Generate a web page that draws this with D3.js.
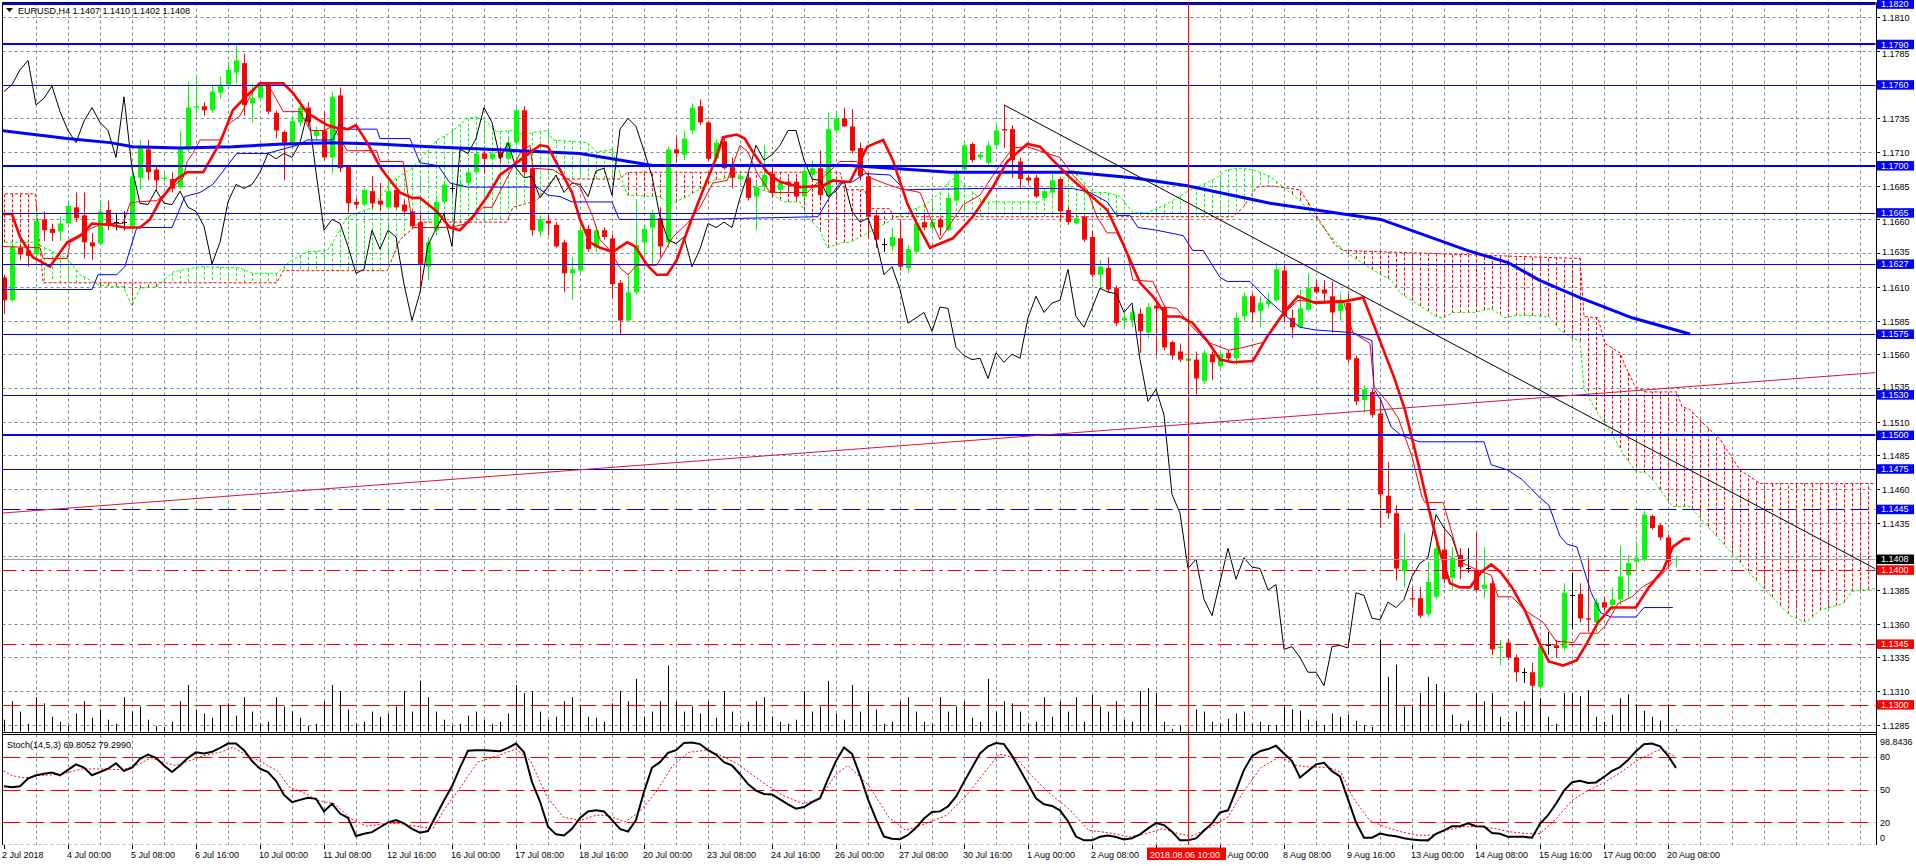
<!DOCTYPE html>
<html><head><meta charset="utf-8">
<script src="https://cdn.jsdelivr.net/npm/d3@7"></script>
<style>
body{margin:0;background:#fff;overflow:hidden}
svg{display:block}
text{font-family:"Liberation Sans",Arial,sans-serif;font-size:9px}
</style></head>
<body><svg id="c" width="1916" height="866"></svg>
<script>
// ---------- DATA ----------
const opens=[1.1617,1.1600,1.1639,1.1637,1.1634,1.1660,1.1653,1.1651,1.1657,1.1669,
1.1663,1.1643,1.1642,1.1667,1.1658,1.1658,1.1655,1.1691,1.1712,1.1697,
1.1690,1.1690,1.1684,1.1712,1.1743,1.1744,1.1741,1.1754,1.1760,1.1769,
1.1776,1.1746,1.1750,1.1761,1.1739,1.1725,1.1715,1.1732,1.1743,1.1722,
1.1726,1.1706,1.1752,1.1699,1.1673,1.1671,1.1681,1.1674,1.1669,1.1682,
1.1671,1.1666,1.1658,1.1625,1.1652,1.1673,1.1683,1.1684,1.1687,1.1695,
1.1709,1.1705,1.1710,1.1705,1.1717,1.1741,1.1698,1.1651,1.1659,1.1656,
1.1643,1.1620,1.1622,1.1653,1.1639,1.1652,1.1646,1.1613,1.1585,1.1606,
1.1643,1.1654,1.1661,1.1643,1.1712,1.1708,1.1726,1.1744,1.1732,1.1705,
1.1718,1.1700,1.1690,1.1691,1.1677,1.1684,1.1694,1.1682,1.1688,1.1688,
1.1677,1.1693,1.1698,1.1677,1.1726,1.1735,1.1729,1.1713,1.1692,1.1663,
1.1642,1.1640,1.1646,1.1624,1.1636,1.1658,1.1654,1.1660,1.1652,1.1674,
1.1697,1.1716,1.1706,1.1702,1.1715,1.1727,1.1727,1.1703,1.1691,1.1691,
1.1676,1.1680,1.1690,1.1667,1.1657,1.1662,1.1647,1.1619,1.1624,1.1609,
1.1585,1.1585,1.1590,1.1576,1.1596,1.1595,1.1569,1.1562,1.1555,1.1556,
1.1540,1.1560,1.1551,1.1561,1.1557,1.1588,1.1603,1.1592,1.1597,1.1600,
1.1622,1.1587,1.1580,1.1593,1.1610,1.1608,1.1603,1.1592,1.1598,1.1557,
1.1526,1.1532,1.1516,1.1455,1.1442,1.1399,1.1379,1.1379,1.1367,1.1380,
1.1415,1.1394,1.1411,1.1401,1.1400,1.1386,1.1390,1.1342,1.1346,1.1335,
1.1324,1.1324,1.1313,1.1344,1.1344,1.1342,1.1381,1.1382,1.1364,1.1361,
1.1376,1.1374,1.1378,1.1396,1.1406,1.1408,1.1440,1.1433,1.1424,1.1407];
const highs=[1.1619,1.1642,1.1642,1.1642,1.1666,1.1666,1.1657,1.1662,1.1672,1.1680,
1.1680,1.1650,1.1674,1.1674,1.1665,1.1666,1.1700,1.1719,1.1719,1.1699,
1.1695,1.1695,1.1726,1.1762,1.1767,1.1747,1.1760,1.1766,1.1777,1.1789,
1.1783,1.1761,1.1761,1.1761,1.1741,1.1726,1.1737,1.1749,1.1747,1.1729,
1.1740,1.1755,1.1758,1.1700,1.1676,1.1683,1.1692,1.1687,1.1693,1.1683,
1.1674,1.1667,1.1666,1.1647,1.1677,1.1689,1.1687,1.1689,1.1698,1.1711,
1.1711,1.1711,1.1714,1.1720,1.1743,1.1744,1.1700,1.1663,1.1664,1.1658,
1.1645,1.1632,1.1656,1.1656,1.1655,1.1654,1.1649,1.1615,1.1620,1.1675,
1.1656,1.1667,1.1669,1.1714,1.1721,1.1726,1.1746,1.1749,1.1733,1.1719,
1.1721,1.1706,1.1695,1.1695,1.1688,1.1715,1.1699,1.1689,1.1691,1.1691,
1.1700,1.1704,1.1711,1.1739,1.1739,1.1743,1.1742,1.1717,1.1695,1.1667,
1.1646,1.1654,1.1660,1.1641,1.1660,1.1664,1.1661,1.1662,1.1678,1.1697,
1.1719,1.1717,1.1710,1.1718,1.1732,1.1745,1.1730,1.1706,1.1693,1.1693,
1.1683,1.1694,1.1691,1.1669,1.1662,1.1663,1.1652,1.1630,1.1632,1.1611,
1.1591,1.1595,1.1594,1.1598,1.1599,1.1596,1.1570,1.1568,1.1559,1.1562,
1.1563,1.1562,1.1563,1.1563,1.1591,1.1606,1.1605,1.1603,1.1605,1.1628,
1.1626,1.1593,1.1608,1.1620,1.1615,1.1615,1.1614,1.1605,1.1605,1.1559,
1.1537,1.1534,1.1528,1.1480,1.1448,1.1427,1.1387,1.1387,1.1406,1.1424,
1.1432,1.1417,1.1416,1.1416,1.1428,1.1417,1.1394,1.1348,1.1349,1.1337,
1.1327,1.1331,1.1346,1.1354,1.1348,1.1390,1.1398,1.1390,1.1409,1.1379,
1.1380,1.1387,1.1418,1.1411,1.1421,1.1444,1.1441,1.1434,1.1426,1.1410];
const lows=[1.1590,1.1599,1.1630,1.1625,1.1630,1.1644,1.1644,1.1644,1.1656,1.1658,
1.1631,1.1630,1.1641,1.1652,1.1652,1.1652,1.1652,1.1682,1.1689,1.1682,
1.1688,1.1680,1.1683,1.1710,1.1737,1.1737,1.1739,1.1750,1.1760,1.1761,
1.1737,1.1732,1.1749,1.1738,1.1720,1.1689,1.1714,1.1729,1.1729,1.1719,
1.1704,1.1694,1.1695,1.1665,1.1668,1.1670,1.1668,1.1666,1.1668,1.1668,
1.1663,1.1654,1.1609,1.1615,1.1648,1.1671,1.1680,1.1682,1.1686,1.1693,
1.1694,1.1704,1.1702,1.1704,1.1715,1.1693,1.1648,1.1647,1.1648,1.1639,
1.1606,1.1600,1.1620,1.1636,1.1636,1.1645,1.1602,1.1574,1.1584,1.1604,
1.1633,1.1626,1.1632,1.1639,1.1702,1.1704,1.1723,1.1730,1.1703,1.1703,
1.1697,1.1683,1.1688,1.1674,1.1652,1.1682,1.1676,1.1678,1.1682,1.1674,
1.1676,1.1691,1.1674,1.1676,1.1724,1.1729,1.1709,1.1689,1.1646,1.1639,
1.1636,1.1637,1.1622,1.1620,1.1634,1.1652,1.1652,1.1648,1.1651,1.1673,
1.1695,1.1702,1.1704,1.1699,1.1714,1.1713,1.1691,1.1683,1.1687,1.1676,
1.1674,1.1678,1.1658,1.1656,1.1656,1.1643,1.1617,1.1608,1.1606,1.1581,
1.1580,1.1580,1.1561,1.1572,1.1559,1.1563,1.1556,1.1554,1.1554,1.1530,
1.1538,1.1541,1.1548,1.1554,1.1552,1.1584,1.1584,1.1580,1.1594,1.1599,
1.1584,1.1572,1.1579,1.1592,1.1605,1.1598,1.1576,1.1585,1.1554,1.1522,
1.1516,1.1513,1.1431,1.1438,1.1392,1.1387,1.1372,1.1364,1.1365,1.1378,
1.1390,1.1385,1.1393,1.1398,1.1384,1.1379,1.1337,1.1329,1.1333,1.1317,
1.1316,1.1311,1.1312,1.1337,1.1335,1.1340,1.1356,1.1361,1.1354,1.1354,
1.1369,1.1370,1.1374,1.1379,1.1400,1.1406,1.1430,1.1422,1.1402,1.1402];
const closes=[1.1600,1.1640,1.1634,1.1633,1.1659,1.1652,1.1650,1.1657,1.1670,1.1661,
1.1643,1.1640,1.1666,1.1657,1.1658,1.1658,1.1692,1.1713,1.1695,1.1689,
1.1691,1.1683,1.1712,1.1743,1.1744,1.1741,1.1755,1.1760,1.1771,1.1778,
1.1745,1.1750,1.1759,1.1740,1.1726,1.1717,1.1733,1.1743,1.1732,1.1726,
1.1706,1.1751,1.1698,1.1672,1.1671,1.1682,1.1672,1.1671,1.1681,1.1669,
1.1666,1.1655,1.1627,1.1643,1.1673,1.1686,1.1683,1.1686,1.1695,1.1709,
1.1705,1.1709,1.1706,1.1717,1.1741,1.1695,1.1652,1.1660,1.1657,1.1640,
1.1620,1.1623,1.1652,1.1638,1.1652,1.1647,1.1612,1.1585,1.1606,1.1641,
1.1653,1.1664,1.1640,1.1712,1.1709,1.1720,1.1743,1.1732,1.1705,1.1717,
1.1698,1.1691,1.1692,1.1676,1.1684,1.1693,1.1680,1.1687,1.1686,1.1677,
1.1696,1.1698,1.1678,1.1727,1.1735,1.1729,1.1711,1.1692,1.1662,1.1645,
1.1642,1.1647,1.1625,1.1638,1.1657,1.1654,1.1658,1.1654,1.1676,1.1694,
1.1715,1.1704,1.1708,1.1715,1.1726,1.1726,1.1704,1.1690,1.1689,1.1677,
1.1681,1.1689,1.1666,1.1658,1.1661,1.1645,1.1619,1.1625,1.1608,1.1583,
1.1587,1.1591,1.1577,1.1595,1.1594,1.1565,1.1559,1.1556,1.1557,1.1542,
1.1561,1.1554,1.1560,1.1557,1.1587,1.1603,1.1591,1.1598,1.1600,1.1623,
1.1588,1.1580,1.1594,1.1609,1.1606,1.1605,1.1591,1.1598,1.1556,1.1525,
1.1534,1.1515,1.1456,1.1442,1.1401,1.1408,1.1378,1.1366,1.1391,1.1416,
1.1393,1.1409,1.1402,1.1401,1.1385,1.1389,1.1341,1.1343,1.1335,1.1324,
1.1324,1.1314,1.1343,1.1344,1.1342,1.1383,1.1381,1.1364,1.1363,1.1376,
1.1372,1.1378,1.1395,1.1405,1.1409,1.1441,1.1431,1.1424,1.1406,1.1408];
// tick volumes per bar
const volumes=[3000,7500,5000,2000,8500,7000,3750,2500,1500,4500,
7500,3500,5500,3000,2000,8500,5000,6250,3000,1500,
1250,2500,7500,11500,5500,4500,3500,6500,7000,4000,
8500,5000,2000,2500,8500,6250,5000,3500,1500,2000,
7500,11500,10000,5500,2000,2500,5000,3750,4500,6250,
10000,5000,12500,8500,5000,3000,1500,2000,4000,5000,
3000,2000,2500,4500,11500,9500,10000,5000,3000,3750,
7500,8500,6250,3750,3500,2500,7000,10000,7500,13000,
3750,5000,7500,16250,7500,5000,6250,4500,7500,3500,
10000,5000,1500,2500,7500,8500,3750,2500,2000,3000,
10000,5000,6250,12500,4500,3000,11500,5000,10000,5500,
2000,2500,7500,8500,5000,2500,2000,8500,5000,6250,
7500,3500,2500,13000,5000,7500,7000,5000,2000,2500,
8500,3750,7500,5000,8500,2500,9000,6250,5000,7500,
3000,2500,10000,10750,
9500,2500,750,1500,6250,5500,5000,2500,2000,3250,
4500,5000,2000,2500,1750,1750,6250,5500,5250,3000,
2750,1750,4500,3750,4250,2750,1750,1250,22500,13500,
16500,6250,6250,9500,13500,11750,9750,4250,2000,2750,
9500,7500,9500,3750,2500,5000,7500,16750,8250,3750,
2000,9500,9500,8750,10250,3750,2500,4250,8250,9250,
6750,5250,3750,2750,6750,750];
// Stochastic(14,5,3) main line, one value per bar
const stochMain=[53,52,53,60,63,64.5,65.5,63,68,73,
70,63,66,69,74,67,70,78,82,79,
72,66,72,79,84,83,84.5,88,92,92,
86,76,69,66,58,45,38.5,40.5,42.5,41.5,
30,37,28,24,7.5,9.5,11,15.5,20,22,
19,14,10.5,12,26,40,53,70,85.5,86,
86,85.5,85,88,92,84,57,39,16,9,
8,14,24,30,31,30,22,14,11.5,22,
48,70,75,83.5,86,92.5,93,91.5,86,82,
75,72,64,55,49,46,45.5,41,36.5,32.5,
34,38.5,42,59.5,76,88.5,82.5,63,41,23,
7,5,4.5,8.5,15,23.5,29.5,30,34.5,43.5,
57,70,83,89.5,92.5,91.5,81,68,55,42,
36.5,35,31,21,7,3.5,3.5,6.8,8,6.6,
4.3,5.5,9,14.5,19.3,17.5,11.5,3.7,3.6,5.3,
12.5,19,29,31,49,68,80.5,85,87,90,
83,76,61,67,73,74.5,66.8,62,41,20,
6,6,9.7,8.2,7.3,5.5,4.3,3.6,3.5,9.5,
12.7,16.4,16.4,19,16.4,16.2,10.2,9.5,6.7,6.7,
6.7,6,18.6,26.5,37,49,56.7,58,56,56.5,
61.5,67,70.5,77,85,91.5,92,89.5,81,69.8052];
// Stochastic signal line (vertices: bar, value)
const stochSigBar=[-0.5,1,2.6,4.1,7.2,9.7,12.3,14.8,16.9,18.4,19.9,21.4,23.5,25,27,28.6,30.1,32.2,34.2,35.7,37.3,39.3,41.3,43.4,45.4,47.5,49.5,51.5,53.6,55.1,57.2,59.2,61.7,64,65.8,67.9,69.9,72,74,75.5,77.6,79.5,81.5,83.6,85.6,87.7,89.7,91.7,94.8,97.4,99.9,101.9,104,105.5,108.1,110.6,112.7,115.2,117.8,120.3,122.9,124.4,126.4,128.5,130.5,133.1,135.6,138.2,140.7,142.8,144.8,146.8,148.4,150.9,153,155,157.1,159.5,161.5,163.6,165.6,167.1,168.6,170.7,172.7,174.7,176.7,178.3,180.3,182.3,184.3,186.4,188.4,190.4,192,194,196,198,200.1,202.1,204.1,206.2,207.2,208.2,209];
const stochSigVal=[68.8,62.7,60.6,62.7,64,68.8,68.8,68,73.3,79,75,72,77,81,84,88.5,82.4,75,67,52,47.6,40,37,23,16.4,18.8,18.8,16.4,14.2,32.4,53.6,75,81,87,76.4,43,24.8,21.8,26.4,26.4,20.3,30,47.6,72,84,86,81,73.3,56.7,44.5,37,41.5,64,72,53.6,24.8,12.7,18.8,26.4,44.5,68.8,82.4,79,62.7,47.6,32.4,12.7,10.3,6.7,9.7,14.2,9.7,7.3,15.8,24.8,49,70,80,72,70.3,70.3,65.8,43,21.8,15.8,11.2,8.2,8.2,12.7,15.8,16.4,14.2,11.2,9.7,9.7,23,40,49,56.7,65.8,76.4,84,87,83,79.299];
// Thick red moving average (vertices)
const maFastBar=[-0.5,1,2,3.6,5.75,7.9,9.75,11,13.25,15.1,17,18.25,19.5,21.6,22.9,24.9,27,28.6,30.4,32,34.9,36.1,37.9,40.4,41.6,43,44,45.4,47,48,49.5,51,52,54.1,55.75,57,58.6,60.4,62,64.5,67,68,69.5,71,72,73.25,74.5,76.1,77.9,78.9,80.4,81.6,82.9,84.1,85.75,87.4,88.9,89.9,91.6,92.6,93.6,95.4,97,99.5,102.4,103.6,104.9,105.75,107.9,109.9,111.1,112.9,114.1,115.75,118.6,121.1,123.6,125.4,127.9,129.5,131.1,133.25,135.4,137.9,139.5,140.75,142,143.6,145.4,147,148.6,150.4,152,153.6,156.1,157.9,160,161.75,163.9,167.4,169.9,171.6,173.75,175.1,176.9,178.1,179.4,180.75,182,183.25,184.6,185.9,187.1,188.5,190.1,191.9,193.1,194.9,196.6,197.9,199.25,200.9,202.6,204,205.6,207.4,208.6,210,210.75];
const maFastVal=[1.1664,1.1664,1.1647,1.1632,1.1625,1.1643,1.1649,1.1657,1.1656,1.1654,1.1654,1.1660,1.1674,1.1690,1.1695,1.1695,1.1717,1.1741,1.1752,1.1761,1.1761,1.1754,1.1739,1.1730,1.1728,1.1727,1.1730,1.1717,1.1699,1.1691,1.1680,1.1676,1.1676,1.1666,1.1654,1.1652,1.1662,1.1677,1.1693,1.1704,1.1715,1.1714,1.1697,1.1680,1.1660,1.1643,1.1639,1.1636,1.1643,1.1640,1.1626,1.1619,1.1619,1.1630,1.1657,1.1682,1.1704,1.1721,1.1723,1.1720,1.1710,1.1695,1.1688,1.1684,1.1685,1.1689,1.1688,1.1688,1.1714,1.1719,1.1704,1.1672,1.1657,1.1639,1.1646,1.1662,1.1684,1.1703,1.1716,1.1714,1.1704,1.1691,1.1680,1.1667,1.1647,1.1630,1.1613,1.1603,1.1588,1.1588,1.1583,1.1570,1.1556,1.1554,1.1555,1.1573,1.1591,1.1603,1.1598,1.1599,1.1602,1.1576,1.1543,1.1519,1.1476,1.1445,1.1415,1.1390,1.1387,1.1387,1.1398,1.1404,1.1398,1.1387,1.1370,1.1346,1.1332,1.1329,1.1333,1.1346,1.1361,1.1372,1.1372,1.1372,1.1387,1.1400,1.1417,1.1423,1.1423];
// Thick blue moving average (vertices)
const maSlowBar=[-0.5,7.9,13.25,16.1,22,28.6,34.9,41.1,46.6,53.25,72,81.1,105.75,118.25,133.6,141.1,147.9,158.25,172.1,182.9,188,191.9,197,203.5,210.75];
const maSlowVal=[1.1726,1.1720,1.1717,1.1714,1.1713,1.1714,1.1716,1.1717,1.1716,1.1714,1.1709,1.1700,1.1700,1.1695,1.1695,1.1691,1.1685,1.1672,1.1660,1.1637,1.1628,1.1615,1.1602,1.1587,1.1575];
// Tenkan-sen (thin red)
const tenkanBar=[-0.5,4.5,4.9,7.9,8.25,9.5,10.75,12,13.25,14.9,15.75,16.6,19.1,19.9,21.1,22.4,22.9,23.6,24.5,27,27.9,29.5,30.75,31.75,32.9,33.6,34.9,37,38.25,39.9,41.1,42.9,46.6,47,49.9,51.1,53.25,55.75,57.9,59.9,61,63.25,64.5,65.75,66.1,68.6,72,73.6,74.5,75.75,77,78,79.1,81.6,83.6,85.4,87,88.6,90.4,92,93,94.1,95.75,100.4,102,104.5,106.6,108.25,110.4,112,114.5,116,117,119.9,122,124.1,126.1,127.9,130.4,132,133.6,135.4,136.6,137.9,139.1,140.4,141.1,143.6,145.1,146.6,148.25,150.4,153.1,154.9,157.5,159.6,161.75,163.5,167.4,168.6,170.75,171.25,173,174.25,175.1,176,177.25,177.6,179.9,181.1,182,184.1,185.9,186.75,188.5,190.1,192.4,194,196.25,197,199.25,200.1,201.75,203.5,204.75,207,208.6];
const tenkanVal=[1.1640,1.1639,1.1631,1.1631,1.1643,1.1647,1.1653,1.1656,1.1657,1.1657,1.1672,1.1673,1.1674,1.1678,1.1684,1.1691,1.1703,1.1709,1.1719,1.1719,1.1730,1.1737,1.1751,1.1761,1.1761,1.1754,1.1740,1.1740,1.1726,1.1726,1.1729,1.1711,1.1711,1.1703,1.1703,1.1654,1.1654,1.1654,1.1657,1.1669,1.1669,1.1695,1.1709,1.1715,1.1698,1.1697,1.1684,1.1662,1.1645,1.1637,1.1624,1.1619,1.1626,1.1626,1.1647,1.1657,1.1669,1.1687,1.1689,1.1715,1.1710,1.1695,1.1680,1.1680,1.1689,1.1703,1.1703,1.1691,1.1686,1.1683,1.1680,1.1658,1.1645,1.1671,1.1678,1.1697,1.1713,1.1714,1.1709,1.1706,1.1693,1.1682,1.1662,1.1650,1.1650,1.1635,1.1615,1.1614,1.1595,1.1594,1.1582,1.1569,1.1563,1.1565,1.1569,1.1588,1.1600,1.1599,1.1600,1.1576,1.1568,1.1536,1.1524,1.1513,1.1499,1.1484,1.1454,1.1450,1.1450,1.1425,1.1406,1.1400,1.1396,1.1380,1.1380,1.1370,1.1361,1.1347,1.1346,1.1353,1.1353,1.1358,1.1375,1.1380,1.1387,1.1395,1.1406];
// Kijun-sen (thin blue)
const kijunBar=[-0.5,11,11.75,14.1,15.1,16.6,21,22.6,24.5,26.1,29.1,32.9,36.6,37.9,41.1,41.9,42.9,46.6,47,50.75,52,54.25,55.75,57.9,66.6,68,69.5,71,76,76.9,85.4,101.75,103.25,104.5,106.1,107.6,110.75,112.6,122,133.6,135.75,137.9,139.1,140.75,141.75,144.1,147.4,148.6,149.9,152,152.9,155.75,157.5,160.9,162,163.9,168.6,171,171.25,172.1,173.4,174.6,176.9,185,185.9,188,189.75,191.9,193.1,194.5,195.4,196.6,198.4,199.6,200.9,204,205,208.6];
const kijunVal=[1.1608,1.1608,1.1619,1.1619,1.1625,1.1654,1.1654,1.1677,1.1680,1.1686,1.1709,1.1709,1.1715,1.1719,1.1719,1.1730,1.1727,1.1727,1.1720,1.1720,1.1702,1.1700,1.1687,1.1684,1.1684,1.1678,1.1677,1.1673,1.1673,1.1660,1.1660,1.1662,1.1677,1.1687,1.1688,1.1694,1.1693,1.1682,1.1683,1.1683,1.1680,1.1673,1.1663,1.1663,1.1654,1.1652,1.1648,1.1637,1.1637,1.1617,1.1614,1.1614,1.1603,1.1585,1.1580,1.1578,1.1576,1.1570,1.1534,1.1526,1.1506,1.1500,1.1495,1.1495,1.1478,1.1474,1.1467,1.1454,1.1448,1.1425,1.1419,1.1417,1.1383,1.1368,1.1365,1.1365,1.1372,1.1372];
// Senkou span A (green) and span B (red) vertices
const spanABar=[-0.5,3.6,7.9,9.5,12,14.9,16,17,19.1,21.1,24.5,29.5,31.1,34.1,35.75,37.9,40.4,41.1,42.9,46.1,48.6,50.75,52,54.1,55.75,57.9,59.1,60.4,61.6,63.5,64.9,66.6,67.9,68.6,72.9,74.1,76,77,77.9,81.75,83.5,85.4,87.4,88.6,90.4,92,93.6,95.75,97.4,99.5,100.4,102,102.9,104.9,105.75,108.6,112,115.4,117,118.25,119.1,121.1,122.4,129.5,131.1,132.9,133.6,134.5,136.1,137.9,139.5,141.1,142.9,144.5,146.1,148.25,149.9,151.6,152.9,154.5,156.1,158.25,162,167.4,171.25,173.4,174.6,177.25,179,179.9,181.1,183.75,185.9,187.6,189.25,193.1,194.5,196,197,197.5,199.25,200.9,202.6,204,205.25,206.5,207.9,208.6,210.75,214.5,219.5,223.25,225.25,227,229.9,231,235];
const spanAVal=[1.1643,1.1643,1.1631,1.1619,1.1611,1.1610,1.1596,1.1609,1.1610,1.1621,1.1625,1.1624,1.1620,1.1620,1.1629,1.1636,1.1637,1.1643,1.1662,1.1669,1.1689,1.1697,1.1704,1.1719,1.1724,1.1735,1.1736,1.1732,1.1725,1.1726,1.1723,1.1725,1.1726,1.1719,1.1717,1.1710,1.1712,1.1694,1.1678,1.1677,1.1672,1.1677,1.1684,1.1689,1.1691,1.1693,1.1684,1.1680,1.1673,1.1673,1.1662,1.1652,1.1639,1.1643,1.1643,1.1652,1.1663,1.1672,1.1680,1.1689,1.1691,1.1680,1.1673,1.1673,1.1682,1.1693,1.1697,1.1691,1.1680,1.1680,1.1677,1.1665,1.1665,1.1669,1.1674,1.1682,1.1686,1.1691,1.1697,1.1698,1.1697,1.1692,1.1674,1.1637,1.1622,1.1615,1.1605,1.1595,1.1588,1.1587,1.1591,1.1591,1.1594,1.1587,1.1589,1.1588,1.1578,1.1572,1.1570,1.1534,1.1516,1.1502,1.1484,1.1473,1.1472,1.1464,1.1452,1.1447,1.1447,1.1422,1.1389,1.1366,1.1361,1.1370,1.1375,1.1384,1.1387];
const spanBBar=[-0.5,3.9,4.9,34.1,34.9,47.9,49.5,52,62.9,63.6,66.6,68.6,77,77.9,104.5,105.1,107.6,108.25,110.75,111.1,153.6,154.9,156.6,158.25,162,166.4,167.4,197,197.5,199.25,200.1,202,202.6,203.9,205.25,209.1,209.75,210.75,212,214.5,217,219.5,235];
const spanBVal=[1.1679,1.1679,1.1613,1.1613,1.1622,1.1622,1.1645,1.1658,1.1658,1.1669,1.1674,1.1690,1.1690,1.1695,1.1695,1.1682,1.1682,1.1668,1.1668,1.1662,1.1662,1.1669,1.1684,1.1685,1.1682,1.1641,1.1637,1.1631,1.1588,1.1587,1.1568,1.1561,1.1552,1.1536,1.1532,1.1532,1.1521,1.1519,1.1511,1.1497,1.1474,1.1464,1.1464];
// Horizontal levels
const blueLevelsThick=[1.1820,1.1790,1.1700,1.1500];
const blueLevelsThin=[1.1760,1.1665,1.1627,1.1575,1.1530,1.1475];
const blueLevelDashed=[1.1445];
const redLevelsDashDot=[1.1400,1.1345];
const redLevelsDashed=[1.1300];
const bidPrice=1.1408;
// Trend lines (bar, price anchors)
const downTrend=[[125,1.1745],[210.75,1.1474]];
const upTrend=[[-0.5,1.1442],[210.75,1.1536]];
const crossBar=148, crossLabel="2018.08.06 10:00";
// Axis labels
const priceTicks=d3.range(0,22).map(i=>+(1.1810-0.0025*i).toFixed(4));
const timeLabelBars=[0,8,16,24,32,40,48,56,64,72,80,88,96,104,112,120,128,136,144,152,160,168,176,184,192,200,208];
const timeLabels=["2 Jul 2018","4 Jul 00:00","5 Jul 08:00","6 Jul 16:00","10 Jul 00:00","11 Jul 08:00","12 Jul 16:00","16 Jul 00:00","17 Jul 08:00","18 Jul 16:00","20 Jul 00:00","23 Jul 08:00","24 Jul 16:00","26 Jul 00:00","27 Jul 08:00","30 Jul 16:00","1 Aug 00:00","2 Aug 08:00","3 Aug 16:00","7 Aug 00:00","8 Aug 08:00","9 Aug 16:00","13 Aug 00:00","14 Aug 08:00","15 Aug 16:00","17 Aug 00:00","20 Aug 08:00"];
const stochLevels=[80,50,20];
const stochAxis=[[98.8436,"98.8436",741],[80,"80",null],[50,"50",null],[20,"20",null],[0,"0",837]];
const header="EURUSD,H4  1.1407 1.1410 1.1402 1.1408";
const stochHeader="Stoch(14,5,3) 69.8052 79.2990";

// ---------- LAYOUT ----------
const PL=2.5, PR=1876, MT=2.5, MB=732, ST=734.5, SB=845;
const x=d3.scaleLinear().domain([0,1]).range([4,12]);
const y=d3.scaleLinear().domain([1.1810,1.1285]).range([17.3,724.8]);
const ys=d3.scaleLinear().domain([0,98.8436]).range([844.2,736.1]);
const GREEN="#00ff00", RED="#ff0000", BLUE="#0000ff", GRID="#778899";
const svg=d3.select("#c");
svg.append("rect").attr("width",1916).attr("height",866).attr("fill","#fff");
const defs=svg.append("defs");
defs.append("clipPath").attr("id","cm").append("rect").attr("x",PL+0.5).attr("y",MT+0.5).attr("width",PR-PL-1).attr("height",MB-MT-1);
defs.append("clipPath").attr("id","cs").append("rect").attr("x",PL+0.5).attr("y",ST+0.5).attr("width",PR-PL-1).attr("height",SB-ST-1);
const gm=svg.append("g").attr("clip-path","url(#cm)");
const gs=svg.append("g").attr("clip-path","url(#cs)");

function interp(bars,vals,b){
  if(b<=bars[0])return vals[0];
  if(b>=bars[bars.length-1])return vals[vals.length-1];
  const i=d3.bisectRight(bars,b)-1; const t=(b-bars[i])/(bars[i+1]-bars[i]||1);
  return vals[i]+t*(vals[i+1]-vals[i]);
}
const vgBars=d3.range(4,236,4);
gm.selectAll(".vg").data(vgBars).join("line").attr("x1",d=>x(d)+0.5).attr("x2",d=>x(d)+0.5).attr("y1",MT).attr("y2",MB)
  .attr("stroke",GRID).attr("stroke-dasharray","3,3");
gm.selectAll(".hg").data(priceTicks).join("line").attr("x1",PL).attr("x2",PR).attr("y1",d=>Math.round(y(d))+0.5).attr("y2",d=>Math.round(y(d))+0.5)
  .attr("stroke",GRID).attr("stroke-dasharray","3,3");
gs.selectAll(".vg").data(vgBars).join("line").attr("x1",d=>x(d)+0.5).attr("x2",d=>x(d)+0.5).attr("y1",ST).attr("y2",SB)
  .attr("stroke",GRID).attr("stroke-dasharray","3,3");
gs.append("line").attr("x1",PL).attr("x2",PR).attr("y1",844.5).attr("y2",844.5).attr("stroke",GRID).attr("stroke-dasharray","3,3");

// Ichimoku cloud hatch
const cloudBars=d3.range(0,236);
gm.selectAll(".hatch").data(cloudBars).join("line")
  .attr("x1",d=>x(d)+0.5).attr("x2",d=>x(d)+0.5)
  .attr("y1",d=>y(interp(spanABar,spanAVal,d))).attr("y2",d=>y(interp(spanBBar,spanBVal,d)))
  .attr("stroke",d=>interp(spanABar,spanAVal,d)>=interp(spanBBar,spanBVal,d)?GREEN:RED)
  .attr("stroke-dasharray","3,2").attr("stroke-width",1);
const lineGen=(bars,vals)=>d3.line().x((d,i)=>x(bars[i])).y((d,i)=>y(vals[i]))(vals);
gm.append("path").attr("d",lineGen(spanABar,spanAVal)).attr("fill","none").attr("stroke",GREEN).attr("stroke-dasharray","3,2");
gm.append("path").attr("d",lineGen(spanBBar,spanBVal)).attr("fill","none").attr("stroke",RED).attr("stroke-dasharray","3,2");

// volumes
const vIdx=d3.range(volumes.length).filter(i=>volumes[i]!=null);
const vh=d3.scaleLinear().domain([0,22500]).range([0,92]);
gm.selectAll(".vol").data(vIdx).join("line").attr("x1",i=>x(i)+0.5).attr("x2",i=>x(i)+0.5)
  .attr("y1",MB).attr("y2",i=>MB-vh(volumes[i])).attr("stroke","#000");

// candles
const bars=d3.range(opens.length);
const cg=gm.append("g");
bars.forEach(i=>{
  const o=opens[i],c=closes[i],h=highs[i],l=lows[i];
  const col=c>o?GREEN:(c<o?RED:"#000");
  const xc=x(i);
  cg.append("line").attr("x1",xc+0.5).attr("x2",xc+0.5).attr("y1",y(h)).attr("y2",y(l)).attr("stroke",col);
  if(c===o){
    cg.append("line").attr("x1",xc-2).attr("x2",xc+3).attr("y1",Math.round(y(o))+0.5).attr("y2",Math.round(y(o))+0.5).attr("stroke","#000");
  } else {
    const t=y(Math.max(o,c)),b=y(Math.min(o,c));
    cg.append("rect").attr("x",xc-2).attr("width",5).attr("y",t).attr("height",Math.max(1,b-t)).attr("fill",col);
  }
});

// chikou span: closes shifted back 26 bars
const chBars=d3.range(0,opens.length-26);
gm.append("path").attr("d",d3.line().x(i=>x(i)).y(i=>y(closes[i+26]))(chBars)).attr("fill","none").attr("stroke","#000").attr("stroke-width",1);
gm.append("path").attr("d",lineGen(kijunBar,kijunVal)).attr("fill","none").attr("stroke",BLUE).attr("stroke-width",1);
gm.append("path").attr("d",lineGen(tenkanBar,tenkanVal)).attr("fill","none").attr("stroke",RED).attr("stroke-width",1);
gm.append("path").attr("d",lineGen(maSlowBar,maSlowVal)).attr("fill","none").attr("stroke",BLUE).attr("stroke-width",3);
gm.append("path").attr("d",lineGen(maFastBar,maFastVal)).attr("fill","none").attr("stroke",RED).attr("stroke-width",2.6);

// horizontal objects
const hl=(p,col,w,dash)=>{const yy=Math.round(y(p))+(w%2?0.5:0);
  gm.append("line").attr("x1",PL).attr("x2",PR).attr("y1",yy).attr("y2",yy).attr("stroke",col).attr("stroke-width",w).attr("stroke-dasharray",dash||null);};
hl(bidPrice,"#a0a0a0",1);
blueLevelsThick.forEach(p=>hl(p,BLUE,2));
blueLevelsThin.forEach(p=>hl(p,BLUE,1));
blueLevelDashed.forEach(p=>hl(p,BLUE,1,"18,6"));
redLevelsDashDot.forEach(p=>hl(p,RED,1,"14,5,3,5"));
redLevelsDashed.forEach(p=>hl(p,RED,1,"18,6"));
function ray(a,col){const [b1,p1]=a[0],[b2,p2]=a[1];const x1=x(b1),y1=y(p1),x2=x(b2),y2=y(p2);
  const s=(y2-y1)/(x2-x1);const xe=PR;gm.append("line").attr("x1",x1).attr("y1",y1).attr("x2",xe).attr("y2",y1+s*(xe-x1)).attr("stroke",col).attr("stroke-width",1);}
ray(upTrend,"#dc143c");
ray(downTrend,"#000");

// stochastic
stochLevels.forEach(v=>gs.append("line").attr("x1",PL).attr("x2",PR).attr("y1",Math.round(ys(v))+0.5).attr("y2",Math.round(ys(v))+0.5)
  .attr("stroke",RED).attr("stroke-dasharray","18,6"));
gs.append("path").attr("d",d3.line().x((d,i)=>x(stochSigBar[i])).y(d=>ys(d))(stochSigVal)).attr("fill","none").attr("stroke",RED).attr("stroke-dasharray","2,2");
gs.append("path").attr("d",d3.line().x((d,i)=>x(i)).y(d=>ys(d))(stochMain)).attr("fill","none").attr("stroke","#000").attr("stroke-width",2);

// crosshair
svg.append("line").attr("x1",x(crossBar)+0.5).attr("x2",x(crossBar)+0.5).attr("y1",MT).attr("y2",SB).attr("stroke",RED);

// frames
const fr=svg.append("g").attr("fill","none").attr("stroke","#000");
fr.append("line").attr("x1",PL).attr("x2",PL).attr("y1",MT).attr("y2",SB);
fr.append("line").attr("x1",PR+0.5).attr("x2",PR+0.5).attr("y1",MT).attr("y2",SB);
fr.append("line").attr("x1",PL).attr("x2",PR).attr("y1",MT).attr("y2",MT);
fr.append("line").attr("x1",PL).attr("x2",PR).attr("y1",MB+0.5).attr("y2",MB+0.5);
fr.append("line").attr("x1",PL).attr("x2",PR).attr("y1",ST).attr("y2",ST);

// header
svg.append("path").attr("d","M6,8 L13,8 L9.5,12 Z").attr("fill","#000");
svg.append("text").attr("x",18).attr("y",14).text(header);
svg.append("text").attr("x",7).attr("y",748).text(stochHeader);

// price axis
const ax=svg.append("g");
const boxLevels=[...blueLevelsThick,...blueLevelsThin,...blueLevelDashed,...redLevelsDashed,...redLevelsDashDot,bidPrice];
priceTicks.forEach(p=>{const yy=Math.round(y(p))+0.5;
  ax.append("line").attr("x1",PR).attr("x2",PR+4).attr("y1",yy).attr("y2",yy).attr("stroke","#000");
  const near=boxLevels.some(b=>Math.abs(b-p)<0.00035);
  if(near)return;
  const close=boxLevels.find(b=>Math.abs(b-p)<0.0008);
  const shift=close!==undefined?(close<p?-2:2):0;
  ax.append("text").attr("x",1882).attr("y",yy+3.5+shift).text(p.toFixed(4));});
function box(p,col){const yy=y(p);ax.append("rect").attr("x",1877).attr("y",yy-4.5).attr("width",37).attr("height",9.5).attr("fill",col);
  ax.append("text").attr("x",1881).attr("y",yy+3.3).attr("fill","#fff").text(p.toFixed(4));}
[...blueLevelsThick,...blueLevelsThin,...blueLevelDashed].forEach(p=>box(p,BLUE));
redLevelsDashed.forEach(p=>box(p,RED));
redLevelsDashDot.forEach(p=>box(p,RED));
box(bidPrice,"#000");
stochAxis.forEach(([v,t,yy])=>{const py=yy==null?ys(v):yy;
  ax.append("text").attr("x",1880).attr("y",py+3.5).text(t);});

// time axis
const cx=x(crossBar), boxL=cx-41, boxR=cx+38;
timeLabelBars.forEach((b,i)=>{const xx=x(b);
  ax.append("line").attr("x1",xx+0.5).attr("x2",xx+0.5).attr("y1",SB).attr("y2",SB+4).attr("stroke","#000");
  const tx=b===0?2:xx-1;
  const label=timeLabels[i];
  if(tx>=boxR || tx+50<boxL){ ax.append("text").attr("x",tx).attr("y",858).text(label); return; }
  // label lies under the crosshair time box: only the part sticking out on the right stays visible
  if(tx+48>boxR+12){
    const words=label.split(" ");
    ax.append("text").attr("x",boxR+1.5).attr("y",858).text(words.slice(1).join(" "));
  }
});
ax.append("rect").attr("x",boxL).attr("y",847.5).attr("width",79).attr("height",12.5).attr("fill",RED);
ax.append("text").attr("x",cx-38).attr("y",858).attr("fill","#fff").text(crossLabel);
</script>
</body></html>
